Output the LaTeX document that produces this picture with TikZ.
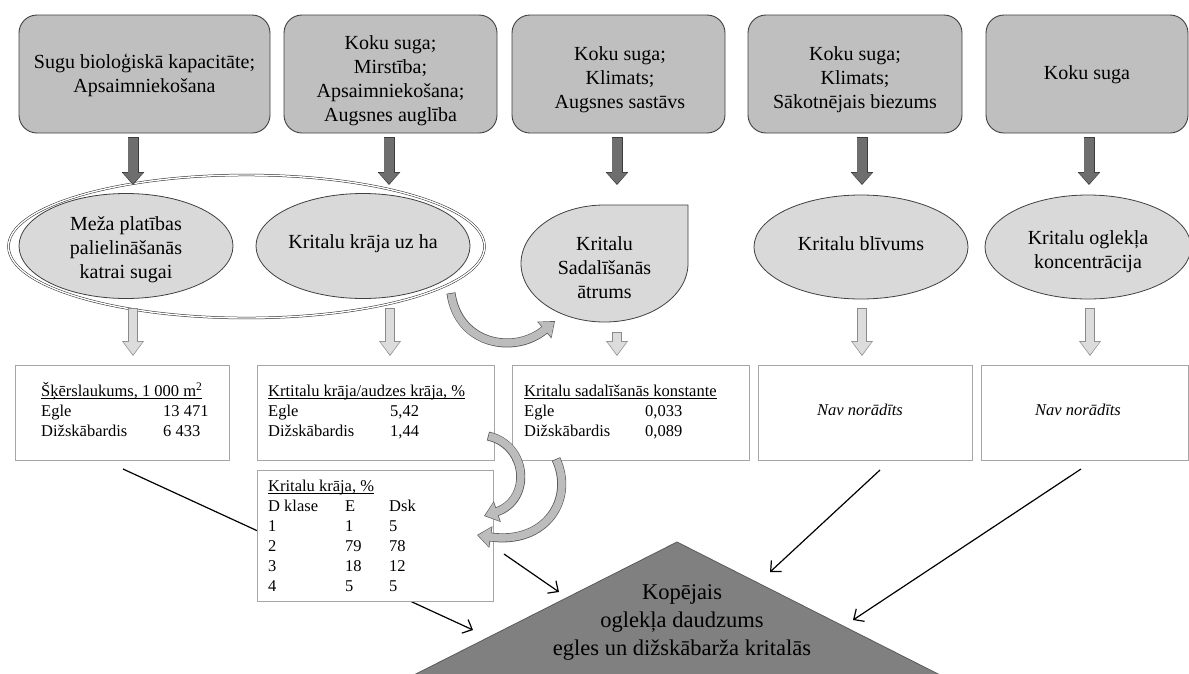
\documentclass[tikz,border=0pt]{standalone}
\usepackage{fontspec}
\setmainfont{Liberation Serif}
\usetikzlibrary{arrows.meta,calc,shapes.geometric}
\definecolor{boxfill}{HTML}{BFBFBF}
\definecolor{boxline}{HTML}{404040}
\definecolor{ellfill}{HTML}{D9D9D9}
\definecolor{darkfill}{HTML}{6E6E6E}
\definecolor{darkline}{HTML}{3C3C3C}
\definecolor{lightfill}{HTML}{DCDCDC}
\definecolor{lightline}{HTML}{8A8A8A}
\definecolor{tblline}{HTML}{A6A6A6}
\definecolor{trifill}{HTML}{808080}
\definecolor{triline}{HTML}{5A5A5A}
\definecolor{curvefill}{HTML}{BCBCBC}
\definecolor{curveline}{HTML}{555555}
\newcommand{\ulbase}[1]{\leavevmode\setbox0\hbox{#1}\rlap{\rule[-2.2pt]{\wd0}{0.7pt}}\box0}
\begin{document}
\begin{tikzpicture}[x=1pt,y=-1pt,
 topbox/.style={draw=boxline, fill=boxfill, line width=0.9pt, rounded corners=18pt, minimum width=#1, minimum height=118pt, inner sep=0pt},
 bigtxt/.style={align=center, font=\fontsize{20}{24}\selectfont, inner sep=0pt},
 ell/.style={ellipse, draw=boxline, fill=ellfill, line width=0.8pt, minimum width=214pt, minimum height=105pt, inner sep=0pt},
 tbox/.style={draw=tblline, fill=white, line width=1pt, inner sep=0pt},
 tbltxt/.style={anchor=north west, inner sep=0pt, font=\fontsize{16.5}{20}\selectfont},
 navtxt/.style={inner sep=0pt, font=\fontsize{16.5}{20}\selectfont\itshape},
 darr/.style={draw=darkline, line width=11pt, -{Triangle[length=13pt,width=22pt]},
   postaction={draw=darkfill, line width=9.4pt, shorten <=0.8pt, shorten >=1.2pt, -{Triangle[length=11pt,width=19.5pt]}}},
 larr/.style={draw=lightline, line width=9.4pt, -{Triangle[length=15pt,width=21pt]},
   postaction={draw=lightfill, line width=7.8pt, shorten <=0.8pt, shorten >=1.2pt, -{Triangle[length=13pt,width=18.5pt]}}},
 curvy/.style={draw=curveline, line width=9pt, -{Triangle[length=14pt,width=21pt]},
   postaction={draw=curvefill, line width=7.6pt, shorten <=0.7pt, shorten >=1.1pt, -{Triangle[length=12.2pt,width=18.8pt]}}},
 conn/.style={draw=black, line width=1.2pt, -{Straight Barb[length=8pt,width=15pt]}}
]
\useasboundingbox (0,0) rectangle (1189,673);
\fill[white] (0,0) rectangle (1189,673);

% outer ellipse grouping
\node[ellipse, draw=black!85, line width=0.5pt, double=white, double distance=1.4pt, fill=white,
  minimum width=476pt, minimum height=143pt, inner sep=0pt] (outer) at (246.5,246.5) {};

% top boxes
\node[topbox=251pt] (t1) at (144.5,74) {};
\node[topbox=213pt] (t2) at (390.5,74) {};
\node[topbox=213pt] (t3) at (618.5,74) {};
\node[topbox=214pt] (t4) at (855,74) {};
\node[topbox=202pt] (t5) at (1087,74) {};
\node[bigtxt] (t1txt) at (144.5,75.75) {Sugu bioloģiskā kapacitāte;\\Apsaimniekošana};
\node[bigtxt] (t2txt) at (390.5,80.75) {Koku suga;\\Mirstība;\\Apsaimniekošana;\\Augsnes auglība};
\node[bigtxt] (t3txt) at (620,80) {Koku suga;\\Klimats;\\Augsnes sastāvs};
\node[bigtxt] (t4txt) at (855,80) {Koku suga;\\Klimats;\\Sākotnējais biezums};
\node[bigtxt] (t5txt) at (1087,75) {Koku suga};

% dark arrows
\coordinate (d1a) at (133,137); \coordinate (d1b) at (133,185);
\coordinate (d2a) at (389,137); \coordinate (d2b) at (389,185);
\coordinate (d3a) at (617,137); \coordinate (d3b) at (617,185);
\coordinate (d4a) at (862,137); \coordinate (d4b) at (862,185);
\coordinate (d5a) at (1089,137); \coordinate (d5b) at (1089,185);
\draw[darr] (d1a) -- (d1b);
\draw[darr] (d2a) -- (d2b);
\draw[darr] (d3a) -- (d3b);
\draw[darr] (d4a) -- (d4b);
\draw[darr] (d5a) -- (d5b);

% ellipses
\node[ell] (e1) at (126,246) {};
\node[bigtxt] (e1txt) at (126,249.75) {Meža platības\\palielināšanās\\katrai sugai};
\node[ell] (e2) at (363,246) {};
\node[bigtxt] (e2txt) at (363,243.75) {Kritalu krāja uz ha};
\draw[draw=boxline, fill=ellfill, line width=0.8pt] (604.5,205) .. controls (558.4,205) and (521,231.2) .. (521,263.5)
  .. controls (521,295.8) and (558.4,322) .. (604.5,322)
  .. controls (650.6,322) and (688,295.8) .. (688,263.5) -- (688,205) -- cycle;
\node[bigtxt] (e3txt) at (604.5,268) {Kritalu\\Sadalīšanās\\ātrums};
\node[ell, minimum height=104pt] (e4) at (861,247) {};
\node[bigtxt] (e4txt) at (861,243.75) {Kritalu blīvums};
\node[ell, minimum width=206pt, minimum height=104pt] (e5) at (1088,247) {};
\node[bigtxt] (e5txt) at (1088,252) {Kritalu oglekļa\\koncentrācija};

% light arrows
\coordinate (l1a) at (133,308); \coordinate (l1b) at (133,356);
\coordinate (l2a) at (390,308); \coordinate (l2b) at (390,356);
\coordinate (l3a) at (617,332); \coordinate (l3b) at (617,356);
\coordinate (l4a) at (862,308); \coordinate (l4b) at (862,356);
\coordinate (l5a) at (1090,308); \coordinate (l5b) at (1090,356);
\draw[larr] (l1a) -- (l1b);
\draw[larr] (l2a) -- (l2b);
\draw[larr] (l3a) -- (l3b);
\draw[larr] (l4a) -- (l4b);
\draw[larr] (l5a) -- (l5b);

% connector passing behind box F
\coordinate (k1a) at (123,469); \coordinate (k1b) at (473,630);
\draw[conn] (k1a) -- (k1b);

% bottom boxes
\node[tbox, minimum width=214pt, minimum height=95pt] (bA) at (122,412.5) {};
\node[tbox, minimum width=237pt, minimum height=95pt] (bB) at (375.5,412.5) {};
\node[tbox, minimum width=237pt, minimum height=95pt] (bC) at (630.5,412.5) {};
\node[tbox, minimum width=214pt, minimum height=95pt] (bD) at (865,412.5) {};
\node[tbox, minimum width=207pt, minimum height=95pt] (bE) at (1084.5,412.5) {};
\node[tbox, minimum width=236pt, minimum height=131pt] (bF) at (375,535.5) {};

\node[tbltxt] (bAtxt) at (41,382.5) {\begin{tabular}{@{}p{122pt}@{}l@{}}
\multicolumn{2}{@{}l@{}}{\ulbase{Šķērslaukums, 1 000 m\textsuperscript{2}}}\\
Egle & 13 471\\
Dižskābardis & 6 433
\end{tabular}};
\node[tbltxt] (bBtxt) at (268,382.5) {\begin{tabular}{@{}p{122pt}@{}l@{}}
\multicolumn{2}{@{}l@{}}{\ulbase{Krtitalu krāja/audzes krāja, \%}}\\
Egle & 5,42\\
Dižskābardis & 1,44
\end{tabular}};
\node[tbltxt] (bCtxt) at (524,382.5) {\begin{tabular}{@{}p{121pt}@{}l@{}}
\multicolumn{2}{@{}l@{}}{\ulbase{Kritalu sadalīšanās konstante}}\\
Egle & 0,033\\
Dižskābardis & 0,089
\end{tabular}};
\node[navtxt] (bDtxt) at (860,410) {Nav norādīts};
\node[navtxt] (bEtxt) at (1078,410) {Nav norādīts};
\node[tbltxt] (bFtxt) at (268,477.5) {\begin{tabular}{@{}p{77pt}@{}p{44pt}@{}l@{}}
\multicolumn{3}{@{}l@{}}{\ulbase{Kritalu krāja, \%}}\\
D klase & E & Dsk\\
1 & 1 & 5\\
2 & 79 & 78\\
3 & 18 & 12\\
4 & 5 & 5
\end{tabular}};

% triangle
\filldraw[fill=trifill, draw=triline, line width=0.8pt] (677,542) -- (952,681) -- (402,681) -- cycle;
\node[align=center, inner sep=0pt, font=\fontsize{22.5}{28}\selectfont] (tri) at (682,622.7) {Kopējais\\oglekļa daudzums\\egles un dižskābarža kritalās};

% connectors to triangle
\coordinate (k2a) at (504,554); \coordinate (k2b) at (559,592);
\coordinate (k3a) at (880,470); \coordinate (k3b) at (770,572);
\coordinate (k4a) at (1081,469); \coordinate (k4b) at (853,620);
\draw[conn] (k2a) -- (k2b);
\draw[conn] (k3a) -- (k3b);
\draw[conn] (k4a) -- (k4b);

% curved block arrows
\coordinate (caa) at (451,293); \coordinate (cab) at (555,321);
\coordinate (cba) at (488,436); \coordinate (cbb) at (484,516);
\coordinate (cca) at (556,459); \coordinate (ccb) at (477,535);
\draw[curvy] (caa) .. controls (458,345) and (515,355) .. (cab);
\draw[curvy] (cba) .. controls (528,445) and (532,500) .. (cbb);
\draw[curvy] (cca) .. controls (575,500) and (545,545) .. (ccb);
\end{tikzpicture}
\end{document}
